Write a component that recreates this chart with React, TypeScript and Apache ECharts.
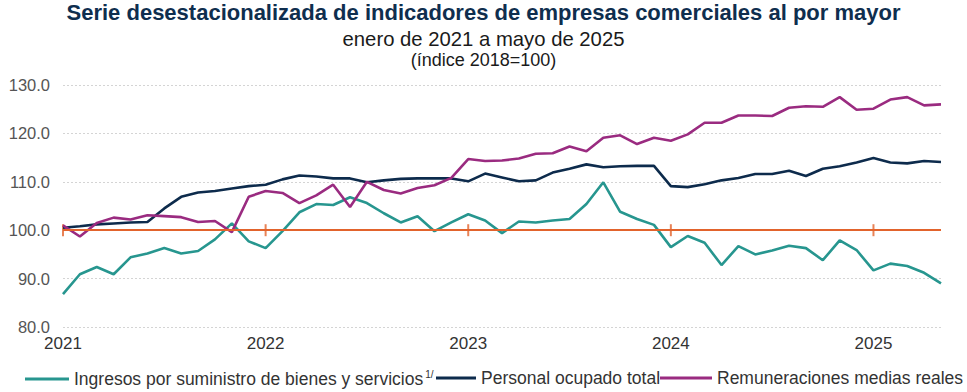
import React, { useEffect, useRef } from "react";
import * as echarts from "echarts";

const years = ["2021", "2022", "2023", "2024", "2025"];
const monthNums = ["01", "02", "03", "04", "05", "06", "07", "08", "09", "10", "11", "12"];

const ingresos = [
  86.8, 90.9, 92.4, 90.9, 94.4, 95.2, 96.3, 95.2, 95.7, 98.1, 101.4, 97.7,
  96.3, 99.8, 103.7, 105.4, 105.2, 106.8, 105.6, 103.5, 101.6, 102.9, 99.8, 101.6,
  103.3, 102.0, 99.4, 101.8, 101.6, 102.0, 102.3, 105.4, 109.9, 103.8, 102.3, 101.1,
  96.5, 98.8, 97.4, 92.8, 96.7, 95.0, 95.8, 96.8, 96.3, 93.8, 97.9, 95.9,
  91.7, 93.1, 92.6, 91.2, 89.0,
];

const personal = [
  100.5, 100.8, 101.2, 101.4, 101.6, 101.7, 104.5, 106.9, 107.8, 108.1, 108.6, 109.1,
  109.4, 110.5, 111.3, 111.1, 110.7, 110.7, 109.9, 110.3, 110.6, 110.7, 110.7, 110.7,
  110.1, 111.7, 110.9, 110.1, 110.3, 111.9, 112.7, 113.6, 113.0, 113.2, 113.3, 113.3,
  109.1, 108.9, 109.5, 110.3, 110.8, 111.6, 111.6, 112.3, 111.2, 112.7, 113.2, 114.0,
  114.9, 114.0, 113.8, 114.3, 114.1,
];

const remuneraciones = [
  101.0, 98.7, 101.5, 102.6, 102.2, 103.1, 102.9, 102.7, 101.7, 101.9, 99.6, 106.9,
  108.1, 107.7, 105.6, 107.2, 109.4, 104.8, 110.0, 108.3, 107.6, 108.7, 109.3, 110.8,
  114.7, 114.3, 114.4, 114.8, 115.8, 115.9, 117.3, 116.3, 119.1, 119.6, 117.8, 119.1,
  118.5, 119.8, 122.2, 122.2, 123.7, 123.7, 123.6, 125.3, 125.6, 125.5, 127.5, 124.9,
  125.1, 127.0, 127.5, 125.8, 126.0,
];

const baseValue = 100;
const yearStartIdx = [0, 12, 24, 36, 48];

const seriesNames = [
  "Ingresos por suministro de bienes y servicios",
  "Personal ocupado total",
  "Remuneraciones medias reales",
];

const colors = ["#27968f", "#0d2b4c", "#9a2b80"];
const orange = "#e2632c";

const categories: string[] = [];
years.forEach((y) => monthNums.forEach((m) => categories.push(y + "-" + m)));
categories.length = ingresos.length;

const FONT = "'Liberation Sans', Arial, sans-serif";

export default function App() {
  const ref = useRef<HTMLDivElement>(null);
  useEffect(() => {
    document.body.style.margin = "0";
    const chart = echarts.init(ref.current!, null, { renderer: "svg" });
    const legendBase = {
      top: 364,
      icon: "rect",
      itemHeight: 3,
      itemGap: 0,
      textStyle: {
        fontFamily: FONT,
        fontSize: 17.5,
        color: "#333333",
        rich: {
          n: { fontFamily: FONT, fontSize: 17.5, color: "#333333" },
          s: { fontFamily: FONT, fontSize: 10, color: "#333333", verticalAlign: "top", padding: [0, 0, 10, 2] },
        },
      },
    };
    chart.setOption({
      animation: false,
      textStyle: { fontFamily: FONT },
      title: [
        {
          text: "Serie desestacionalizada de indicadores de empresas comerciales al por mayor",
          left: "center",
          top: 1,
          padding: 0,
          textStyle: { fontFamily: FONT, fontSize: 22, fontWeight: "bold", color: "#0f2e4e" },
        },
        {
          text: "enero de 2021 a mayo de 2025",
          left: "center",
          top: 29,
          padding: 0,
          textStyle: { fontFamily: FONT, fontSize: 20.3, fontWeight: "normal", color: "#1a1a1a" },
        },
        {
          text: "(índice 2018=100)",
          left: "center",
          top: 51,
          padding: 0,
          textStyle: { fontFamily: FONT, fontSize: 18, fontWeight: "normal", color: "#1a1a1a" },
        },
      ],
      legend: [
        {
          ...legendBase,
          left: 20,
          itemWidth: 44,
          data: [seriesNames[0]],
          formatter: (n: string) => "{n|" + n + "}{s|1/}",
        },
        { ...legendBase, left: 431, itemWidth: 40, data: [seriesNames[1]], formatter: (n: string) => "{n|" + n + "}" },
        { ...legendBase, left: 655, itemWidth: 52, data: [seriesNames[2]], formatter: (n: string) => "{n|" + n + "}" },
      ],
      grid: { left: 63, right: 26, top: 85, bottom: 65 },
      xAxis: {
        type: "category",
        data: categories,
        boundaryGap: false,
        axisLine: { show: false },
        axisTick: { show: false },
        splitLine: { show: false },
        axisLabel: {
          interval: (i: number) => i % 12 === 0,
          formatter: (v: string) => v.slice(0, 4),
          fontFamily: FONT,
          fontSize: 17,
          color: "#333333",
          margin: 8,
        },
      },
      yAxis: {
        type: "value",
        min: 80,
        max: 130,
        interval: 10,
        axisLine: { show: false },
        axisTick: { show: false },
        axisLabel: {
          formatter: (v: number) => v.toFixed(1),
          fontFamily: FONT,
          fontSize: 16.5,
          color: "#555555",
          margin: 13,
        },
        splitLine: { lineStyle: { color: "#d4d4d4", type: [2, 2], width: 1 } },
      },
      series: [
        {
          name: "base",
          type: "scatter",
          data: yearStartIdx.map((i) => [i, baseValue]),
          symbol: "rect",
          symbolSize: [2, 12],
          itemStyle: { color: orange },
          z: 1,
          silent: true,
          markLine: {
            silent: true,
            symbol: "none",
            label: { show: false },
            lineStyle: { color: orange, width: 2, type: "solid" },
            data: [{ yAxis: baseValue }],
          },
        },
        ...[ingresos, personal, remuneraciones].map((d, k) => ({
          name: seriesNames[k],
          type: "line",
          data: d,
          symbol: "none",
          z: 3,
          lineStyle: { color: colors[k], width: 2.6 },
          itemStyle: { color: colors[k] },
        })),
      ],
    });
    return () => chart.dispose();
  }, []);
  return <div ref={ref} style={{ width: 967, height: 392 }} />;
}
